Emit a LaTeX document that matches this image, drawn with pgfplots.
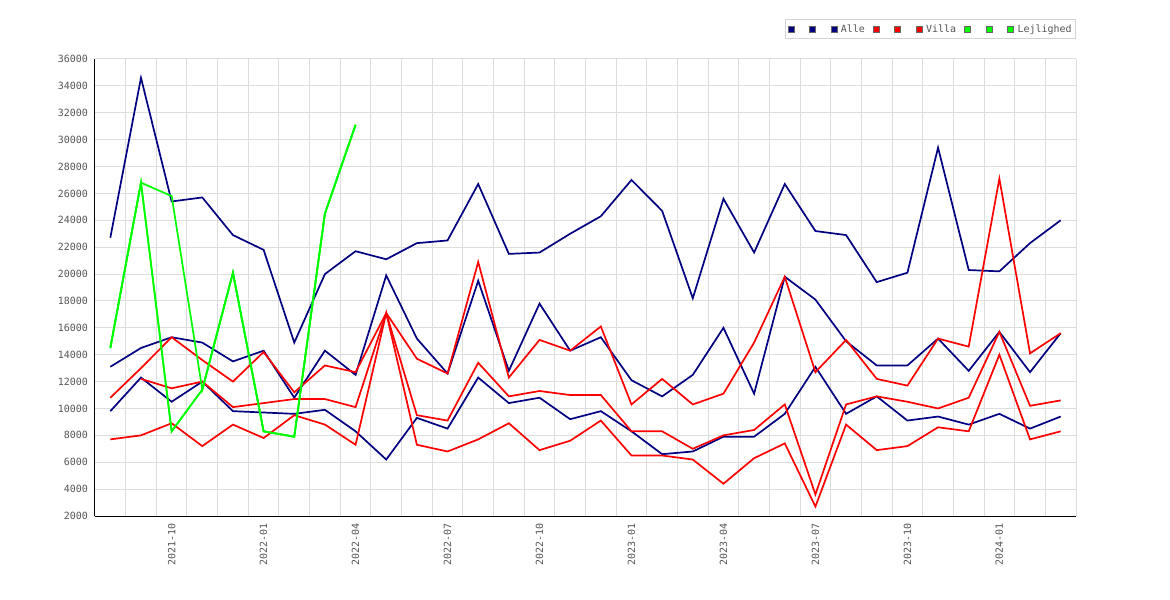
\documentclass[border=0pt]{standalone}
\usepackage{pgfplots}
\pgfplotsset{compat=1.18}
\usepackage{pgfplotstable}
\usepackage{fontspec}
\setmainfont{DejaVu Sans}
\newfontfamily\chartfont{DejaVu Sans Mono}
\definecolor{navyc}{RGB}{0,0,128}
\definecolor{redc}{RGB}{255,0,0}
\definecolor{greenc}{RGB}{0,255,0}
\definecolor{gridc}{RGB}{221,221,221}
\definecolor{textc}{RGB}{85,85,85}
\definecolor{sqb}{RGB}{102,102,102}
\definecolor{legb}{RGB}{210,210,210}

% x: month index, 0 = 2021-08 ... 31 = 2024-03
\pgfplotstableread{
x a1 a2 a3
0 22700 13100 9800
1 34600 14500 12300
2 25400 15300 10500
3 25700 14900 12000
4 22900 13500 9800
5 21800 14300 9700
6 14900 10800 9600
7 20000 14300 9900
8 21700 12500 8300
9 21100 19900 6200
10 22300 15200 9300
11 22500 12600 8500
12 26700 19500 12300
13 21500 12800 10400
14 21600 17800 10800
15 23000 14300 9200
16 24300 15300 9800
17 27000 12100 8300
18 24700 10900 6600
19 18200 12500 6800
20 25600 16000 7900
21 21600 11100 7900
22 26700 19800 9600
23 23200 18100 13100
24 22900 15000 9600
25 19400 13200 10900
26 20100 13200 9100
27 29400 15200 9400
28 20300 12800 8800
29 20200 15700 9600
30 22300 12700 8500
31 24000 15600 9400
}\alle

\pgfplotstableread{
x v1 v2 v3
0 10800 nan 7700
1 13000 12200 8000
2 15300 11500 8900
3 13600 12000 7200
4 12000 10100 8800
5 14200 10400 7800
6 11200 10700 9500
7 13200 10700 8800
8 12700 10100 7300
9 17100 17100 17100
10 13700 9500 7300
11 12600 9100 6800
12 20900 13400 7700
13 12300 10900 8900
14 15100 11300 6900
15 14300 11000 7600
16 16100 11000 9100
17 10300 8300 6500
18 12200 8300 6500
19 10300 7000 6200
20 11100 8000 4400
21 14900 8400 6300
22 19800 10300 7400
23 12700 3600 2700
24 15100 10300 8800
25 12200 10900 6900
26 11700 10500 7200
27 15200 10000 8600
28 14600 10800 8300
29 27100 15700 14000
30 14100 10200 7700
31 15600 10600 8300
}\villa

\pgfplotstableread{
x g1 g2 g3
0 14500 14500 14500
1 26800 26800 26800
2 25800 8300 8300
3 11400 11400 11400
4 20100 20100 20100
5 8300 8300 8300
6 7900 7900 7900
7 24500 24500 24500
8 31100 31100 31100
}\lejl

\begin{document}
\begin{tikzpicture}
\path[use as bounding box] (0,0) rectangle (1170bp,600bp);
\begin{axis}[
  at={(95bp,84bp)}, anchor=south west,
  width=981bp, height=457bp, scale only axis,
  xmin=-0.5, xmax=31.5, ymin=2000, ymax=36000,
  axis x line*=bottom, axis y line*=left,
  axis line style={black, line width=1bp},
  xtick={2,5,...,29},
  xticklabels={2021-10,2022-01,2022-04,2022-07,2022-10,2023-01,2023-04,2023-07,2023-10,2024-01},
  minor xtick={0.5,1.5,...,31.5},
  xminorgrids=true, xmajorgrids=false,
  ytick={2000,4000,...,36000},
  scaled y ticks=false,
  yticklabel={\pgfmathprintnumber[fixed,precision=0,1000 sep={}]{\tick}},
  ymajorgrids=true,
  grid style={gridc, line width=1bp},
  minor grid style={gridc, line width=1bp},
  major tick length=0pt, minor tick length=0pt,
  tick label style={font=\chartfont\fontsize{10}{12}\selectfont, text=textc},
  /pgf/number format/assume math mode=true,
  /pgf/number format/1000 sep={},
  yticklabel style={inner sep=0pt},
  yticklabel shift=7bp,
  xticklabel style={rotate=90, anchor=east, inner sep=0pt},
  xticklabel shift=7bp,
  legend columns=9,
  legend cell align=left,
  legend style={at={(1,1)}, anchor=south east, yshift=20bp,
    draw=legb, line width=1bp,
    font=\chartfont\fontsize{10}{12}\selectfont, text=textc,
    inner xsep=2bp, inner ysep=3bp, nodes={inner sep=2bp},
    /tikz/every odd column/.append style={column sep=1.5bp},
    /tikz/every even column/.append style={column sep=6bp}},
]
\addplot[navyc, line width=1.7bp, forget plot] table[x=x,y=a1]{\alle};
\addplot[navyc, line width=1.7bp, forget plot] table[x=x,y=a2]{\alle};
\addplot[navyc, line width=1.7bp, forget plot] table[x=x,y=a3]{\alle};
\addplot[redc, line width=1.7bp, forget plot] table[x=x,y=v1]{\villa};
\addplot[redc, line width=1.7bp, forget plot] table[x=x,y=v2]{\villa};
\addplot[redc, line width=1.7bp, forget plot] table[x=x,y=v3]{\villa};
\addplot[greenc, line width=1.7bp, forget plot] table[x=x,y=g1]{\lejl};
\addplot[greenc, line width=1.7bp, forget plot] table[x=x,y=g2]{\lejl};
\addplot[greenc, line width=1.7bp, forget plot] table[x=x,y=g3]{\lejl};

\addlegendimage{legend image code/.code={\draw[fill=navyc,draw=sqb,line width=0.8bp] (0bp,-3bp) rectangle (6bp,3bp);}}
\addlegendentry{\hspace*{3.2bp}}
\addlegendimage{legend image code/.code={\draw[fill=navyc,draw=sqb,line width=0.8bp] (0bp,-3bp) rectangle (6bp,3bp);}}
\addlegendentry{\hspace*{3.2bp}}
\addlegendimage{legend image code/.code={\draw[fill=navyc,draw=sqb,line width=0.8bp] (0bp,-3bp) rectangle (6bp,3bp);}}
\addlegendentry{Alle}
\addlegendimage{legend image code/.code={\draw[fill=redc,draw=sqb,line width=0.8bp] (0bp,-3bp) rectangle (6bp,3bp);}}
\addlegendentry{\hspace*{3.2bp}}
\addlegendimage{legend image code/.code={\draw[fill=redc,draw=sqb,line width=0.8bp] (0bp,-3bp) rectangle (6bp,3bp);}}
\addlegendentry{\hspace*{3.2bp}}
\addlegendimage{legend image code/.code={\draw[fill=redc,draw=sqb,line width=0.8bp] (0bp,-3bp) rectangle (6bp,3bp);}}
\addlegendentry{Villa}
\addlegendimage{legend image code/.code={\draw[fill=greenc,draw=sqb,line width=0.8bp] (0bp,-3bp) rectangle (6bp,3bp);}}
\addlegendentry{\hspace*{3.2bp}}
\addlegendimage{legend image code/.code={\draw[fill=greenc,draw=sqb,line width=0.8bp] (0bp,-3bp) rectangle (6bp,3bp);}}
\addlegendentry{\hspace*{3.2bp}}
\addlegendimage{legend image code/.code={\draw[fill=greenc,draw=sqb,line width=0.8bp] (0bp,-3bp) rectangle (6bp,3bp);}}
\addlegendentry{Lejlighed}
\end{axis}
\end{tikzpicture}
\end{document}
